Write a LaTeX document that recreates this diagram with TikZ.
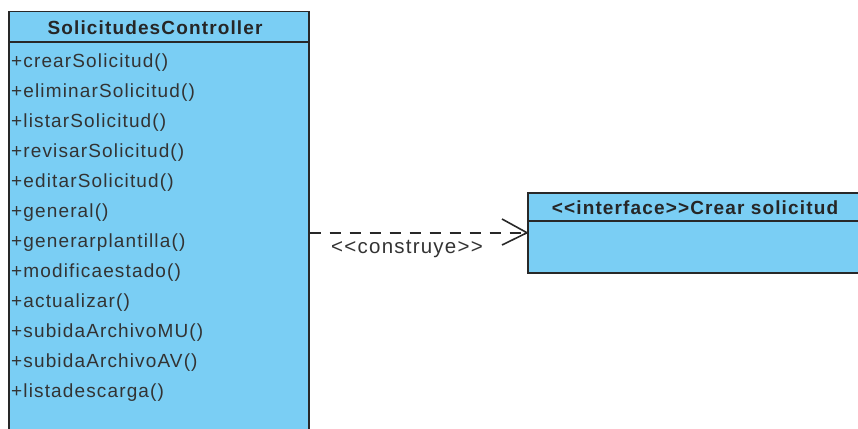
\documentclass[tikz,border=0pt]{standalone}
\usepackage{fontspec}
\setmainfont{Liberation Sans}
\newfontfamily\umlfont[LetterSpace=6]{Liberation Sans}
\definecolor{umlfill}{RGB}{122,206,244}
\definecolor{umlline}{RGB}{40,40,40}
\tikzset{
  classbox/.style={draw=umlline, fill=umlfill, line width=1.5pt, inner sep=0pt, anchor=north west},
  headtext/.style={font=\umlfont\fontsize{19}{21}\selectfont\bfseries, text=black!85, inner sep=0pt},
  ifacetext/.style={font=\umlfont\fontsize{19}{21}\selectfont\bfseries, text=black!85, inner sep=0pt},
  optext/.style={font=\umlfont\fontsize{19}{21}\selectfont, text=black!80, inner sep=0pt, anchor=west},
  deplabel/.style={font=\umlfont\fontsize{20.5}{22}\selectfont, text=black!80, inner sep=0pt},
  dep/.style={draw=umlline, line width=1.6pt, dash pattern=on 11pt off 9pt},
  openhead/.style={draw=umlline, line width=1.6pt}
}
\begin{document}
\begin{tikzpicture}[x=1pt,y=-1pt]
\useasboundingbox (0,0) rectangle (858,428);
\clip (0,0) rectangle (858,428);
% controller class
\node[classbox, minimum width=300pt, minimum height=440pt] (ctrl) at (8,11) {};
\coordinate (ctrlsepL) at (8,42);
\coordinate (ctrlsepR) at (308,42);
\draw[umlline, line width=1.5pt] (ctrlsepL) -- (ctrlsepR);
\node[headtext] (ctrlname) at (155,27.5) {SolicitudesController};
\node[optext] (op1) at (11,63) {+crearSolicitud()};
\node[optext] (op2) at (11,93) {+eliminarSolicitud()};
\node[optext] (op3) at (11,123) {+listarSolicitud()};
\node[optext] (op4) at (11,153) {+revisarSolicitud()};
\node[optext] (op5) at (11,183) {+editarSolicitud()};
\node[optext] (op6) at (11,213) {+general()};
\node[optext] (op7) at (11,243) {+generarplantilla()};
\node[optext] (op8) at (11,273) {+modificaestado()};
\node[optext] (op9) at (11,303) {+actualizar()};
\node[optext] (op10) at (11,333) {+subidaArchivoMU()};
\node[optext] (op11) at (11,363) {+subidaArchivoAV()};
\node[optext] (op12) at (11,393) {+listadescarga()};
% interface
\node[classbox, minimum width=336pt, minimum height=80pt] (iface) at (527,192) {};
\coordinate (ifacesepL) at (527,221);
\coordinate (ifacesepR) at (863,221);
\draw[umlline, line width=1.5pt] (ifacesepL) -- (ifacesepR);
\node[ifacetext] (ifacename) at (695,207.5) {<<interface>>Crear solicitud};
% dependency
\coordinate (depstart) at (ctrl.east |- iface.west);
\draw[dep] (depstart) -- (iface.west);
\coordinate (headA) at (502,219);
\coordinate (headB) at (502,245);
\draw[openhead] (headA) -- (iface.west) -- (headB);
\node[deplabel] (deplbl) at (407,249) {<<construye>>};
\end{tikzpicture}
\end{document}
